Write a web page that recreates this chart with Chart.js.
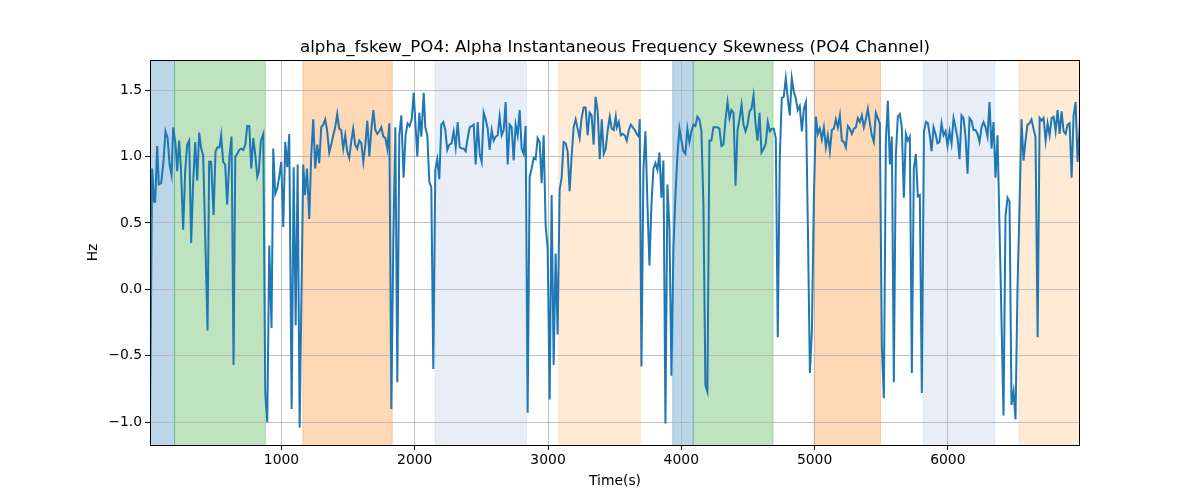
<!DOCTYPE html>
<html><head><meta charset="utf-8">
<script src="https://cdn.jsdelivr.net/npm/chart.js@4"></script>
<style>html,body{margin:0;padding:0;background:#fff;}</style>
</head><body>
<canvas id="c" width="1200" height="500"></canvas>
<script>
const titleText = 'alpha_fskew_PO4: Alpha Instantaneous Frequency Skewness (PO4 Channel)';
const xLabel = 'Time(s)';
const yLabel = 'Hz';
const xMin = 13, xMax = 6992;
const yMin = -1.172, yMax = 1.727;
const xTicks = [1000, 2000, 3000, 4000, 5000, 6000];
const xTickLabels = ['1000', '2000', '3000', '4000', '5000', '6000'];
const yTicks = [-1.0, -0.5, 0.0, 0.5, 1.0, 1.5];
const yTickLabels = ['\u22121.0', '\u22120.5', '0.0', '0.5', '1.0', '1.5'];

const times = [
13,29,44,52,67,79,97,114,129,145,160,175,187,205,217,232,245,262,277,292,307,322,337,352,367,382,397,412,445,457,472,490,505,520,535,547,562,577,592,610,625,640,653,668,683,698,713,728,743,758,773,788,803,818,830,845,863,878,893,908,925,938,953,968,983,998,1013,1028,1043,1058,1076,1091,1106,1121,1136,1163,
1176,1191,1208,1223,1238,1253,1268,1283,1298,1313,1328,1343,1358,1373,1388,1403,1418,1433,1448,1463,1478,1493,1508,1523,1538,1553,1568,1584,1599,1614,1629,1644,1659,1674,1689,1704,1719,1734,1749,1764,1779,1794,1809,1824,1839,1854,1869,1884,1899,1916,1931,1946,1961,1977,1992,2019,2034,2049,2067,2079,2094,2109,2124,2139,2154,2169,2184,2199,2214,2229,2244,2259,
2276,2292,2307,2322,2337,2352,2367,2382,2397,2412,2427,2442,2457,2472,2487,2502,2517,2532,2547,2562,2577,2592,2607,2622,2637,2652,2667,2682,2697,2712,2727,2742,2757,2772,2787,2802,2817,2832,2847,2862,2877,2892,2907,2922,2937,2952,2967,2982,2997,3012,3027,3042,3057,3072,3087,3102,3117,3132,3147,3162,3177,3192,3207,3222,3237,3252,3267,3282,3297,3312,3327,3342,3357,3373,3388,3403,3418,3433,3448,3463,3478,3493,
3508,3516,3531,3546,3561,3576,3591,3606,3621,3636,3651,3666,3681,3688,3701,3716,3731,3746,3761,3776,3791,3806,3821,3836,3851,3866,3881,3896,3911,3926,3941,3956,3971,3986,4001,4016,4031,4046,4061,4076,4091,4106,4121,4136,4151,4166,4181,4196,4211,4226,4241,4256,4271,4286,4301,4316,4332,4347,4362,4377,4392,4407,4422,4437,4452,4467,4482,4497,4512,4527,4542,4557,4572,4587,4602,
4619,4634,4649,4664,4679,4694,4709,4724,4739,4754,4769,4784,4799,4814,4829,4844,4859,4874,4889,4905,4920,4935,4950,4965,4980,4995,5010,5025,5040,5055,5070,5085,5100,5115,5130,5145,5160,5175,5190,5205,5220,5235,5250,5265,5280,5295,5310,5325,5340,5355,5370,5385,5400,5415,5430,5445,5460,5475,5490,5505,5520,5535,5550,5565,5580,5595,5610,5625,5640,5655,5670,5685,5700,5715,5730,5745,5760,5775,5790,5805,5821,
5836,5851,5866,5878,5893,5908,5923,5938,5953,5968,5983,5998,6013,6028,6043,6058,6073,6088,6103,6118,6133,6148,6163,6178,6193,6208,6223,6238,6253,6268,6283,6298,6313,6328,6343,6358,6373,6396,6418,6433,6448,6463,6478,6493,6508,6523,6538,6553,6568,6583,6598,6613,6628,6643,6658,6674,6689,6704,6719,6734,6749,6764,6779,6794,6809,6824,6839,6854,6869,6884,6899,6914,6929,6944,6959,6974,6992
];
const values = [
-1.01,0.91,0.66,0.66,1.08,0.79,0.80,0.96,1.19,1.14,0.94,0.86,1.22,1.09,0.89,1.12,0.91,0.45,0.89,1.09,1.12,0.35,0.81,1.11,0.82,1.18,1.06,1.01,-0.31,0.96,0.96,0.56,1.04,1.07,1.07,1.16,0.96,0.94,0.64,1.01,1.15,-0.57,1.00,1.02,1.05,1.06,1.05,1.09,1.23,1.23,0.91,1.14,1.01,0.85,0.89,1.12,1.17,-0.78,-1.00,0.33,-0.29,1.06,0.72,0.76,0.85,0.96,0.47,1.11,0.92,1.17,-0.90,0.92,-0.27,0.94,-1.04,0.94,
0.71,0.91,0.53,1.01,1.28,0.91,1.09,0.95,1.22,1.24,1.28,1.19,1.03,1.09,1.16,1.22,1.32,1.21,1.20,1.06,1.16,1.04,0.99,1.11,1.21,1.09,1.06,1.12,1.10,0.96,1.09,1.27,1.00,1.20,1.35,1.20,1.17,1.19,1.22,1.15,1.14,1.06,1.25,-0.90,0.36,1.22,-0.70,1.16,1.31,0.84,1.16,1.25,1.23,1.28,1.48,1.00,1.33,1.15,1.48,1.22,1.16,0.81,0.77,-0.60,0.90,0.98,0.83,1.24,1.26,1.20,1.05,1.09,
1.10,1.19,1.07,1.26,1.07,1.06,1.06,1.04,1.14,1.22,1.23,1.24,0.94,1.26,1.02,0.96,1.33,1.28,1.21,1.05,1.20,1.12,1.15,1.16,1.30,1.16,1.20,1.41,0.94,1.24,1.22,0.97,1.24,1.16,1.35,1.06,1.02,1.23,-0.93,0.85,0.91,0.99,0.98,1.14,1.11,0.80,1.16,0.48,0.31,-0.83,0.71,-0.57,0.27,-0.34,0.75,0.84,1.11,1.10,1.04,0.74,1.00,1.22,1.28,1.21,1.14,1.29,1.37,1.37,1.16,1.33,1.31,1.09,1.45,1.34,0.98,1.28,1.02,1.06,1.20,1.30,1.21,1.20,
1.30,1.22,1.26,1.16,1.17,1.16,1.12,1.20,1.24,1.22,1.20,1.17,1.15,1.28,-0.58,0.91,1.19,0.64,0.18,0.64,0.91,0.95,0.90,1.03,0.69,0.97,-1.01,0.79,0.46,-0.65,0.31,0.71,1.01,1.21,1.12,1.04,1.02,1.21,1.11,1.19,1.24,1.23,1.30,1.28,1.19,0.64,-0.72,-0.77,1.12,1.12,1.22,1.22,1.22,1.21,1.08,1.09,1.28,1.41,1.29,1.35,1.33,0.78,1.20,1.28,1.39,1.24,1.19,1.24,1.34,1.36,1.46,1.25,1.12,1.33,1.03,
1.06,1.10,1.26,1.19,1.21,1.21,1.14,-0.36,0.99,1.44,1.45,1.59,1.44,1.31,1.59,1.49,1.44,1.35,1.38,1.19,1.36,1.41,0.46,-0.63,-0.32,0.69,1.30,1.17,1.21,1.13,1.22,1.07,1.16,1.04,1.20,1.21,1.28,1.22,1.31,1.12,1.11,1.07,1.23,1.21,1.17,1.21,1.22,1.29,1.26,1.31,1.22,1.28,1.36,1.25,1.16,1.11,1.33,1.29,1.25,-0.42,-0.82,1.11,1.42,0.94,1.15,-0.70,1.01,1.30,1.32,1.22,0.69,1.17,1.12,1.15,-0.63,0.91,1.02,0.70,0.71,-0.78,1.19,
1.26,1.25,1.15,1.04,1.22,1.17,1.10,1.11,1.25,1.16,1.19,1.08,1.19,1.10,1.29,1.22,1.14,0.98,1.31,1.29,1.15,0.87,1.29,1.27,1.20,1.20,1.17,1.11,1.22,1.26,1.22,1.15,1.41,1.06,1.26,0.84,1.16,0.10,-0.95,0.55,0.69,0.66,-0.87,-0.77,-0.98,0.01,0.61,1.28,0.97,1.12,1.24,1.25,1.28,1.21,1.15,-0.36,1.29,1.27,1.29,1.12,1.25,1.16,1.29,1.30,1.19,1.35,1.17,1.34,1.19,1.17,1.24,1.25,0.84,1.31,1.41,0.96,1.26
];

const spanStart = [13, 197, 1160, 2152, 3080, 3936, 4089, 4997, 5815, 6534];
const spanEnd   = [197, 878, 1831, 2840, 3693, 4089, 4689, 5495, 6354, 6992];
const spanKind  = ['blue','green','orange','lightblue','lightorange','blue','green','orange','lightblue','lightorange'];

const spanColors = {
  blue: 'rgba(31,119,180,0.3)',
  green: 'rgba(44,160,44,0.3)',
  orange: 'rgba(255,127,14,0.3)',
  lightblue: 'rgba(174,199,232,0.3)',
  lightorange: 'rgba(255,187,120,0.3)'
};

const spansPlugin = {
  id: 'spans',
  beforeDraw(chart) {
    const {ctx, chartArea, scales} = chart;
    ctx.save();
    ctx.beginPath();
    ctx.rect(chartArea.left, chartArea.top, chartArea.right - chartArea.left, chartArea.bottom - chartArea.top);
    ctx.clip();
    for (let i = 0; i < spanStart.length; i++) {
      const x0 = scales.x.getPixelForValue(spanStart[i]);
      const x1 = scales.x.getPixelForValue(spanEnd[i]);
      const c = spanColors[spanKind[i]];
      ctx.fillStyle = c;
      ctx.fillRect(x0, chartArea.top, x1 - x0, chartArea.bottom - chartArea.top);
      ctx.strokeStyle = c;
      ctx.lineWidth = 1;
      ctx.beginPath();
      ctx.moveTo(x0, chartArea.top); ctx.lineTo(x0, chartArea.bottom);
      ctx.moveTo(x1, chartArea.top); ctx.lineTo(x1, chartArea.bottom);
      ctx.stroke();
    }
    ctx.restore();
  }
};

const framePlugin = {
  id: 'frame',
  afterDraw(chart) {
    const {ctx, chartArea} = chart;
    ctx.save();
    ctx.strokeStyle = '#000';
    ctx.lineWidth = 1;
    ctx.strokeRect(Math.round(chartArea.left) + 0.5, Math.round(chartArea.top) + 0.5,
      Math.round(chartArea.right - chartArea.left) - 1, Math.round(chartArea.bottom - chartArea.top));
    ctx.fillStyle = '#000';
    ctx.textAlign = 'center';
    ctx.textBaseline = 'alphabetic';
    ctx.font = '16.67px "DejaVu Sans"';
    const cx = (chartArea.left + chartArea.right) / 2;
    ctx.fillText(titleText, cx, chartArea.top - 8.5);
    ctx.textBaseline = 'middle';
    ctx.font = '13.9px "DejaVu Sans"';
    ctx.fillText(xLabel, cx, chartArea.bottom + 36);
    ctx.translate(chartArea.left - 57, (chartArea.top + chartArea.bottom) / 2);
    ctx.rotate(-Math.PI / 2);
    ctx.fillText(yLabel, 0, 0);
    ctx.restore();
  }
};

const tickFont = {family: 'DejaVu Sans', size: 13.9};

new Chart(document.getElementById('c'), {
  type: 'line',
  data: {
    datasets: [{
      data: times.map((t, i) => ({x: t, y: values[i]})),
      borderColor: '#1f77b4',
      borderWidth: 2,
      pointRadius: 0,
      tension: 0,
      fill: false
    }]
  },
  options: {
    responsive: false,
    animation: false,
    devicePixelRatio: 1,
    layout: {padding: {left: 0, right: 120, top: 60, bottom: 0}},
    plugins: {legend: {display: false}, tooltip: {enabled: false}, title: {display: false}},
    scales: {
      x: {
        type: 'linear', min: xMin, max: xMax,
        afterFit: s => { s.height = 55; },
        afterBuildTicks: s => { s.ticks = xTicks.map(v => ({value: v})); },
        ticks: {
          callback: (v) => xTickLabels[xTicks.indexOf(v)],
          font: tickFont, color: '#000', padding: 2, maxRotation: 0, autoSkip: false
        },
        grid: {color: '#b0b0b0', lineWidth: 0.8, tickColor: '#000', tickLength: 5, tickWidth: 1},
        border: {display: false}
      },
      y: {
        type: 'linear', min: yMin, max: yMax,
        afterFit: s => { s.width = 150; },
        afterBuildTicks: s => { s.ticks = yTicks.map(v => ({value: v})); },
        ticks: {
          callback: (v) => yTickLabels[yTicks.indexOf(v)],
          font: tickFont, color: '#000', padding: 3, autoSkip: false
        },
        grid: {color: '#b0b0b0', lineWidth: 0.8, tickColor: '#000', tickLength: 5, tickWidth: 1},
        border: {display: false}
      }
    }
  },
  plugins: [spansPlugin, framePlugin]
});
</script>
</body></html>
